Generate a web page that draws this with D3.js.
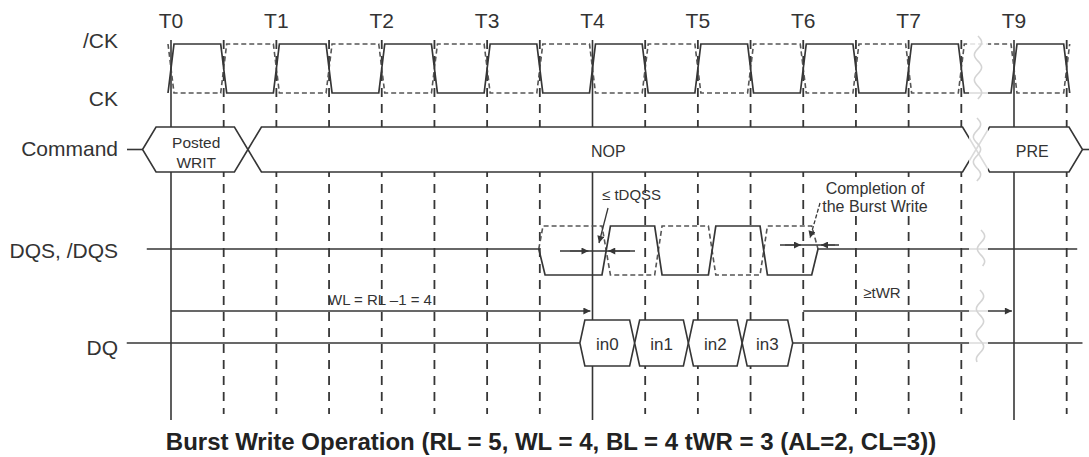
<!DOCTYPE html>
<html><head><meta charset="utf-8">
<script src="https://cdn.jsdelivr.net/npm/d3@7"></script>
<style>html,body{margin:0;padding:0;background:#fff;} svg{display:block;font-family:"Liberation Sans",Arial,sans-serif;}</style>
</head><body><svg id="c" width="1089" height="457"></svg>
<script>
// ---------- data ----------
const tickLabels = ["T0","T1","T2","T3","T4","T5","T6","T7","T9"];
const tickCycles = [0,1,2,3,4,5,6,7,8];
const solidCycles = [0,4,8];
const gridCycles = [0,0.5,1,1.5,2,2.5,3,3.5,4,4.5,5,5.5,6,6.5,7,7.5,8,8.5];
const clockEdges = [0,0.5,1,1.5,2,2.5,3,3.5,4,4.5,5,5.5,6,6.5,7,7.5,8,8.5];
const clockLevels = [1,0,1,0,1,0,1,0,1,0,1,0,1,0,1,0,1,0];
const signalLabels = ["/CK","CK","Command","DQS, /DQS","DQ"];
const commandLabels = [["Posted","WRIT"],["NOP"],["PRE"]];
const commandStart = [-0.27, 0.73, 7.64];
const commandEnd = [0.73, 7.64, 8.65];
const dqLabels = ["in0","in1","in2","in3"];
const dqBounds = [3.88, 4.40, 4.91, 5.42, 5.90];
const dqsSolid = [[-0.23,0],[3.49,0],[3.55,-1],[4.09,-1],[4.17,1],[4.59,1],[4.66,-1],[5.10,-1],[5.17,1],[5.59,1],[5.66,-1],[6.08,-1],[6.14,0],[8.6,0]];
const dqsDashed = [[3.49,0],[3.53,1],[4.09,1],[4.17,-1],[4.59,-1],[4.66,1],[5.10,1],[5.17,-1],[5.59,-1],[5.66,1],[6.08,1],[6.14,0]];
const wlSpan = [0, 3.98];
const twrSpan = [6.0, 7.98];
const dqLineSpan = [-0.42, 8.65];
const titleText = "Burst Write Operation (RL = 5, WL = 4, BL = 4 tWR = 3 (AL=2, CL=3))";

// ---------- layout ----------
const svg = d3.select("#c");
const ink = "#363636";
const x = d3.scaleLinear().domain([0, 8]).range([171, 1014]);
const yClk = d3.scaleLinear().domain([0, 1]).range([93, 44]);
const yDqs = d3.scaleLinear().domain([-1, 0, 1]).range([275, 249, 226]);
const cmdTop = 127, cmdBot = 172, cmdMid = 149.5;
const dqTop = 320, dqBot = 366, dqMid = 343;
const arrowY = 311;
const line = d3.line();

const defs = svg.append("defs");
defs.append("marker").attr("id","ah").attr("viewBox","0 0 10 10").attr("refX",10).attr("refY",5)
  .attr("markerWidth",10).attr("markerHeight",7).attr("markerUnits","userSpaceOnUse").attr("orient","auto")
  .append("path").attr("d","M0,0 L10,5 L0,10 Z").attr("fill",ink);

// grid lines
svg.append("g").selectAll("line").data(gridCycles).join("line")
  .attr("x1", d => x(d)).attr("x2", d => x(d))
  .attr("y1", 40).attr("y2", d => solidCycles.includes(d) ? 420 : 414)
  .attr("stroke", ink).attr("stroke-width", d => solidCycles.includes(d) ? 1.6 : 1.8)
  .attr("stroke-dasharray", d => solidCycles.includes(d) ? null : "9,7");

// tick labels
svg.append("g").selectAll("text").data(tickCycles).join("text")
  .attr("x", d => x(d)).attr("y", 28).attr("text-anchor","middle")
  .attr("font-size", 21).attr("fill", "#333").text((d,i) => tickLabels[i]);

// signal labels
const labelBase = [48, 106, 156, 258, 355];
svg.append("g").selectAll("text").data(signalLabels).join("text")
  .attr("x", 118).attr("y", (d,i) => labelBase[i]).attr("text-anchor","end")
  .attr("font-size", 21).attr("fill", "#333").text(d => d);

// clock
const sk = 3;
function clockPts(inv) {
  const pts = [];
  clockEdges.forEach((e, i) => {
    const before = i === 0 ? 0 : clockLevels[i-1];
    const after = clockLevels[i];
    const b = inv ? 1 - before : before, a = inv ? 1 - after : after;
    pts.push([x(e) - sk, yClk(b)], [x(e) + sk, yClk(a)]);
  });
  return pts;
}
svg.append("path").attr("d", line(clockPts(true))).attr("fill","none")
  .attr("stroke","#555").attr("stroke-width",1.6).attr("stroke-dasharray","5,3");
svg.append("path").attr("d", line(clockPts(false))).attr("fill","none")
  .attr("stroke",ink).attr("stroke-width",1.7);

// command bus
svg.append("line").attr("x1",127).attr("x2",x(commandStart[0])).attr("y1",cmdMid).attr("y2",cmdMid)
  .attr("stroke",ink).attr("stroke-width",1.6);
svg.append("line").attr("x1",x(commandEnd[2])).attr("x2",1089).attr("y1",cmdMid).attr("y2",cmdMid)
  .attr("stroke",ink).attr("stroke-width",1.6);
function hexPath(x0, x1, top, bot, h) {
  const m = (top + bot) / 2;
  return `M${x0},${m}L${x0+h},${top}L${x1-h},${top}L${x1},${m}L${x1-h},${bot}L${x0+h},${bot}Z`;
}
const cmdG = svg.append("g");
commandLabels.forEach((lab, i) => {
  const x0 = x(commandStart[i]), x1 = x(commandEnd[i]);
  cmdG.append("path").attr("d", hexPath(x0, x1, cmdTop, cmdBot, 13.5))
    .attr("fill","#fff").attr("stroke",ink).attr("stroke-width",1.6);
});
cmdG.append("text").attr("x", (x(commandStart[0])+x(commandEnd[0]))/2 + 1).attr("y",148)
  .attr("text-anchor","middle").attr("font-size",15.5).attr("fill","#333").text(commandLabels[0][0]);
cmdG.append("text").attr("x", (x(commandStart[0])+x(commandEnd[0]))/2 + 1).attr("y",168)
  .attr("text-anchor","middle").attr("font-size",15.5).attr("fill","#333").text(commandLabels[0][1]);
cmdG.append("text").attr("x", x(4.15)).attr("y",157)
  .attr("text-anchor","middle").attr("font-size",16).attr("fill","#333").text(commandLabels[1][0]);
cmdG.append("text").attr("x", (x(commandStart[2])+x(commandEnd[2]))/2 + 3).attr("y",157)
  .attr("text-anchor","middle").attr("font-size",16).attr("fill","#333").text(commandLabels[2][0]);

// DQS
svg.append("path").attr("d", line(dqsDashed.map(p => [x(p[0]), yDqs(p[1])]))).attr("fill","none")
  .attr("stroke","#555").attr("stroke-width",1.6).attr("stroke-dasharray","5,3");
svg.append("path").attr("d", line(dqsSolid.map(p => [x(p[0]), yDqs(p[1])]))).attr("fill","none")
  .attr("stroke",ink).attr("stroke-width",1.7);

// tDQSS annotation
svg.append("line").attr("x1",560).attr("x2",635).attr("y1",251).attr("y2",251).attr("stroke",ink).attr("stroke-width",1.5);
svg.append("line").attr("x1",570).attr("x2",x(4)-4).attr("y1",251).attr("y2",251).attr("stroke",ink).attr("marker-end","url(#ah)");
svg.append("line").attr("x1",630).attr("x2",x(4.14)+1).attr("y1",251).attr("y2",251).attr("stroke",ink).attr("marker-end","url(#ah)");
svg.append("text").attr("x",602).attr("y",200).attr("font-size",15).attr("fill","#333").text("≤ tDQSS");
svg.append("line").attr("x1",608).attr("y1",208).attr("x2",599).attr("y2",243).attr("stroke",ink).attr("stroke-width",1.3).attr("marker-end","url(#ah)");

// Completion annotation
svg.append("line").attr("x1",780).attr("x2",839).attr("y1",245).attr("y2",245).attr("stroke",ink).attr("stroke-width",1.5);
svg.append("line").attr("x1",785).attr("x2",801).attr("y1",245).attr("y2",245).attr("stroke",ink).attr("marker-end","url(#ah)");
svg.append("line").attr("x1",835).attr("x2",821).attr("y1",245).attr("y2",245).attr("stroke",ink).attr("marker-end","url(#ah)");
svg.append("rect").attr("x",822).attr("y",180).attr("width",107).attr("height",36).attr("fill","#fff");
svg.append("text").attr("x",875).attr("y",194).attr("text-anchor","middle").attr("font-size",16).attr("fill","#333").text("Completion of");
svg.append("text").attr("x",875).attr("y",212).attr("text-anchor","middle").attr("font-size",16).attr("fill","#333").text("the Burst Write");
svg.append("line").attr("x1",820).attr("y1",203).attr("x2",810).attr("y2",238).attr("stroke",ink).attr("stroke-width",1.3).attr("stroke-dasharray","4,2").attr("marker-end","url(#ah)");

// WL arrow
svg.append("line").attr("x1",x(wlSpan[0])).attr("x2",x(wlSpan[1])).attr("y1",arrowY).attr("y2",arrowY)
  .attr("stroke",ink).attr("stroke-width",1.6).attr("marker-end","url(#ah)");
svg.append("text").attr("x",328).attr("y",305).attr("font-size",15).attr("fill","#333").text("WL = RL –1 = 4");

// tWR arrow
svg.append("line").attr("x1",x(twrSpan[0])).attr("x2",x(twrSpan[1])).attr("y1",arrowY).attr("y2",arrowY)
  .attr("stroke",ink).attr("stroke-width",1.6).attr("marker-end","url(#ah)");
svg.append("text").attr("x",882).attr("y",298).attr("text-anchor","middle").attr("font-size",15).attr("fill","#333").text("≥tWR");

// DQ
svg.append("line").attr("x1",x(dqLineSpan[0])).attr("x2",x(dqLineSpan[1])).attr("y1",dqMid).attr("y2",dqMid)
  .attr("stroke",ink).attr("stroke-width",1.6);
const dqG = svg.append("g");
dqLabels.forEach((lab, i) => {
  const x0 = x(dqBounds[i]), x1 = x(dqBounds[i+1]);
  dqG.append("path").attr("d", hexPath(x0, x1, dqTop, dqBot, 5))
    .attr("fill","#fff").attr("stroke",ink).attr("stroke-width",1.6);
  dqG.append("text").attr("x",(x0+x1)/2).attr("y",350).attr("text-anchor","middle")
    .attr("font-size",17).attr("fill","#333").text(lab);
});

// break region
svg.append("rect").attr("x",969).attr("y",30).attr("width",19).attr("height",345).attr("fill","#fff").attr("opacity",0.82);
function squiggle(cx, y0, y1) {
  const pts = [];
  for (let y = y0; y <= y1; y += 3) pts.push([cx + 4 * Math.sin((y - y0) / 4), y]);
  return d3.line().curve(d3.curveBasis)(pts);
}
[[978,36,100],[977,118,182],[981,230,266],[980,290,362]].forEach(s => {
  svg.append("path").attr("d", squiggle(s[0], s[1], s[2])).attr("fill","none").attr("stroke","#d4d4d4").attr("stroke-width",1.6);
});

// title
svg.append("text").attr("x",551).attr("y",450).attr("text-anchor","middle").attr("font-size",24)
  .attr("font-weight","bold").attr("fill","#222").text(titleText);
</script></body></html>
